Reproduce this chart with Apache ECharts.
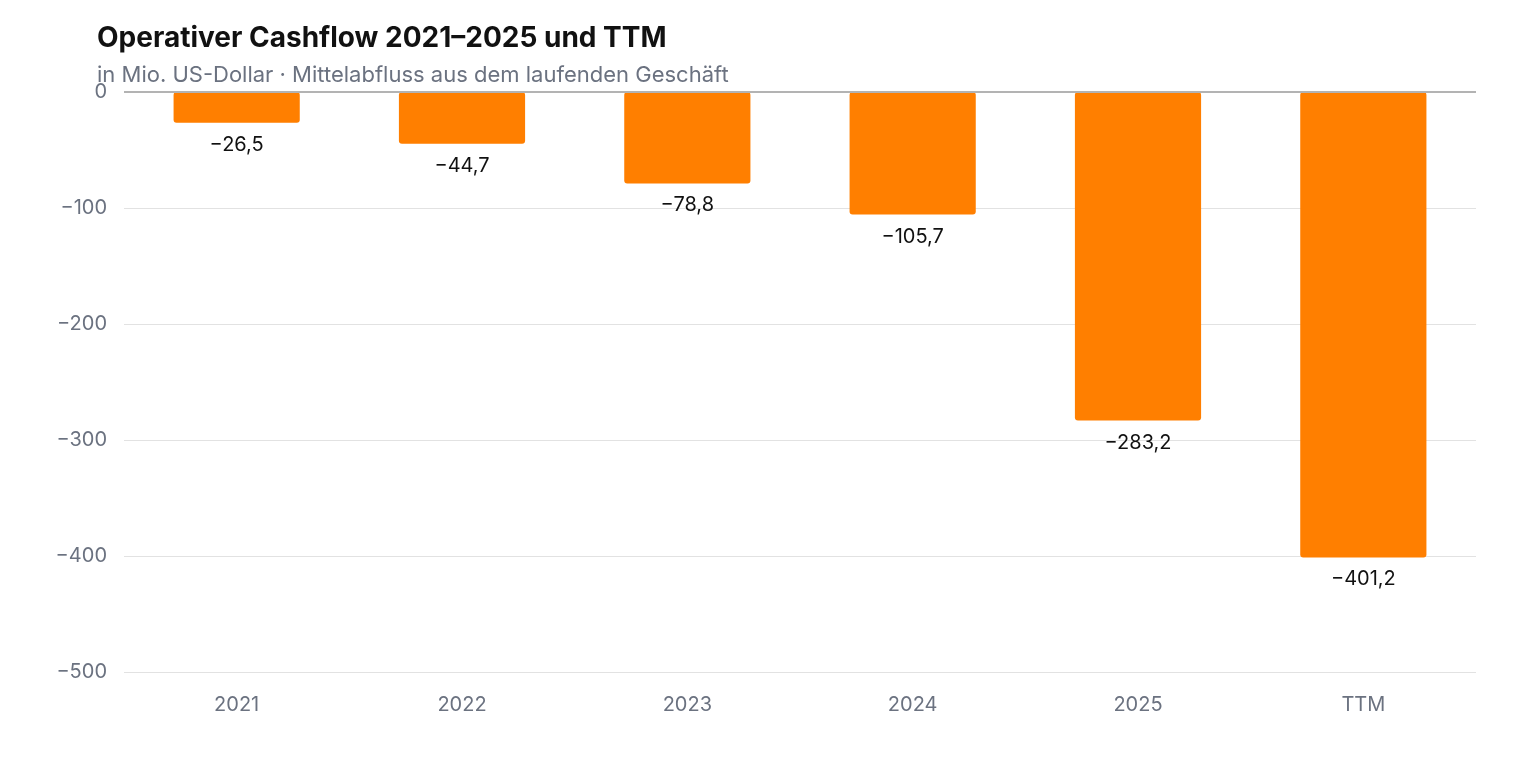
<!DOCTYPE html>
<html>
<head>
<meta charset="utf-8">
<script src="https://cdn.jsdelivr.net/npm/echarts@6/dist/echarts.min.js"></script>
<style>
  html, body { margin: 0; padding: 0; background: #ffffff; }
  #chart { width: 1520px; height: 760px; }
</style>
</head>
<body>
<div id="chart"></div>
<script>
// Operativer Cashflow, in Mio. US-Dollar
var categories = ["2021", "2022", "2023", "2024", "2025", "TTM"];
var cashflow = [-26.5, -44.7, -78.8, -105.7, -283.2, -401.2];

var fontFamily = 'Inter, "Liberation Sans", Arial, sans-serif';

function deNum(v, digits) {
  var s = digits ? Math.abs(v).toFixed(digits).replace(".", ",") : String(Math.abs(v));
  return (v < 0 ? "\u2212" : "") + s;
}

var myChart = echarts.init(document.getElementById("chart"));
myChart.setOption({
  animation: false,
  textStyle: { fontFamily: fontFamily },
  title: {
    text: "Operativer Cashflow 2021\u20132025 und TTM",
    subtext: "in Mio. US-Dollar \u00b7 Mittelabfluss aus dem laufenden Gesch\u00e4ft",
    left: 92,
    top: 20,
    itemGap: 11,
    textStyle: { fontSize: 28, fontWeight: "bold", color: "#111111", fontFamily: fontFamily },
    subtextStyle: { fontSize: 22, color: "#6b7280", fontFamily: fontFamily }
  },
  grid: {
    left: 124,
    right: 44,
    top: 92,
    bottom: 88
  },
  xAxis: {
    type: "category",
    data: categories,
    axisLine: { show: false },
    axisTick: { show: false },
    axisLabel: { color: "#6b7280", fontSize: 20, margin: 23 }
  },
  yAxis: {
    type: "value",
    min: -500,
    max: 0,
    interval: 100,
    axisLine: { show: false },
    axisTick: { show: false },
    axisLabel: {
      color: "#6b7280",
      fontSize: 20,
      margin: 17,
      formatter: function (v) { return deNum(v); }
    },
    splitLine: { lineStyle: { color: "#e2e2e2", width: 1 } }
  },
  series: [
    {
      name: "Operativer Cashflow",
      type: "bar",
      data: cashflow,
      barWidth: "56%",
      itemStyle: { color: "#ff7f00", borderRadius: 3 },
      label: {
        show: true,
        position: "bottom",
        distance: 12,
        color: "#111111",
        fontSize: 20,
        formatter: function (p) { return deNum(p.value, 1); }
      },
      markLine: {
        silent: true,
        symbol: "none",
        label: { show: false },
        lineStyle: { color: "#b3b3b3", type: "solid", width: 2 },
        data: [{ yAxis: 0 }]
      }
    }
  ]
});
</script>
</body>
</html>
